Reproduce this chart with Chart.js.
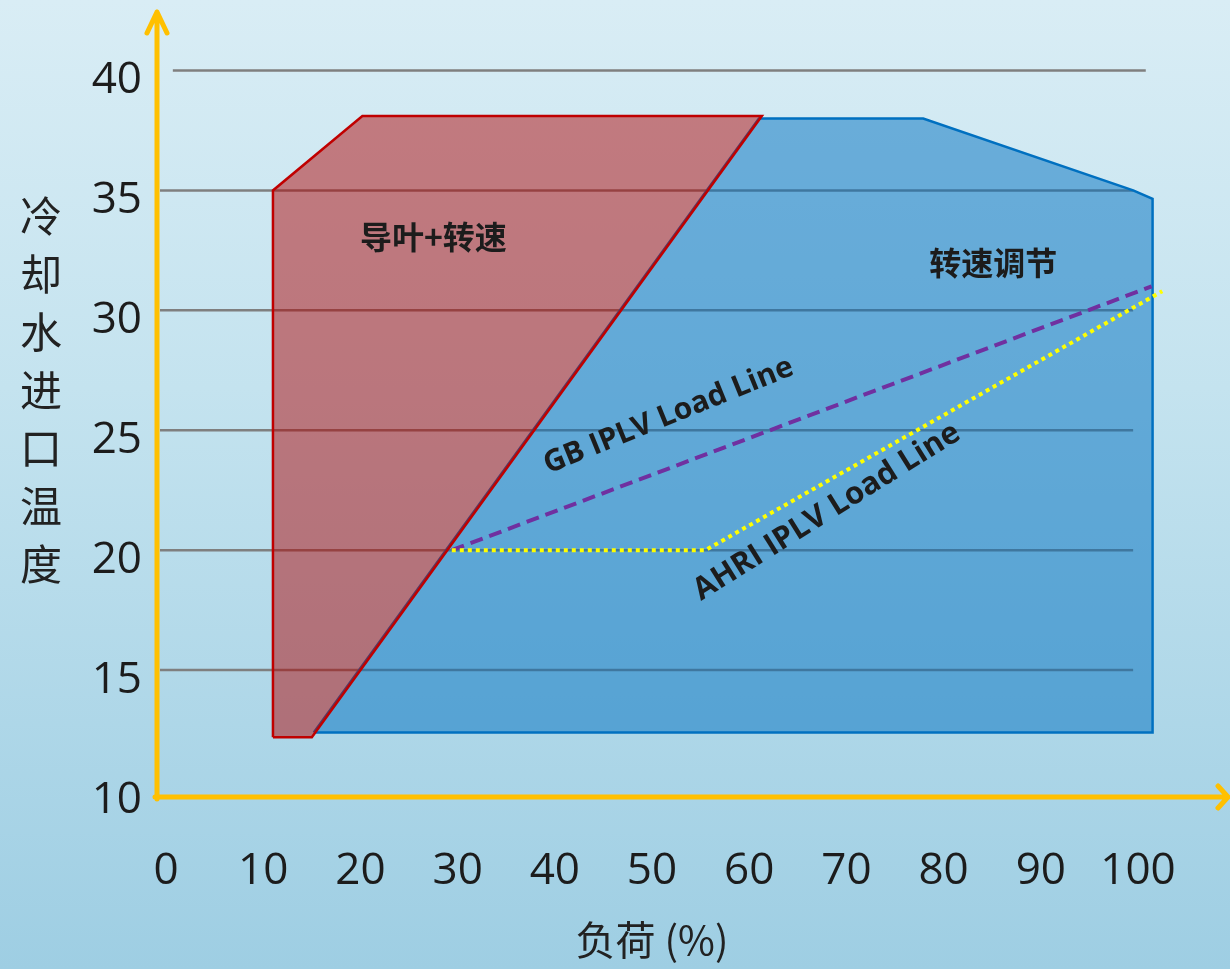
<!DOCTYPE html>
<html>
<head>
<meta charset="utf-8">
<script src="https://cdn.jsdelivr.net/npm/chart.js@4"></script>
<style>
html,body{margin:0;padding:0;width:1230px;height:969px;overflow:hidden;
  background:linear-gradient(to bottom,#d9edf5 0%,#c4e3ef 40%,#9ecee3 100%);}
canvas{display:block;}
</style>
</head>
<body>
<canvas id="c" width="1230" height="969"></canvas>
<script>
// ---- data ----
const xTicks = [0, 10, 20, 30, 40, 50, 60, 70, 80, 90, 100];
const yTicks = [10, 15, 20, 25, 30, 35, 40];
const gridValues = [15, 20, 25, 30, 35, 40];

// 导叶+转速 region (polygon, load %, °C)
const guideVaneX = [11.0, 11.0, 20.2, 61.3, 15.0, 11.0];
const guideVaneY = [12.2, 35.0, 38.1, 38.1, 12.2, 12.2];
// 转速调节 region
const speedX = [15.2, 61.0, 77.9, 99.5, 101.5, 101.5, 15.2];
const speedY = [12.4, 38.0, 38.0, 35.0, 34.65, 12.4, 12.4];
// GB IPLV load line
const gbX = [29.4, 101.4];
const gbY = [20.0, 31.0];
// AHRI IPLV load line
const ahriX = [29.4, 55.5, 102.5];
const ahriY = [20.0, 20.0, 30.8];

const xTitle = '负荷 (%)';
const yTitle = '冷却水进口温度';
const regionLabelA = '导叶+转速';
const regionLabelB = '转速调节';
const gbLabel = 'GB IPLV Load Line';
const ahriLabel = 'AHRI IPLV Load Line';

const pts = (xs, ys) => xs.map((x, i) => ({x: x, y: ys[i]}));

const decor = {
  id: 'decor',
  beforeDatasetsDraw(chart) {
    const {ctx, scales: {x, y}} = chart;
    ctx.save();
    ctx.strokeStyle = '#7f7f7f';
    ctx.lineWidth = 2.5;
    gridValues.forEach(v => {
      const py = y.getPixelForValue(v);
      const top = v === gridValues[gridValues.length - 1];
      const x0 = top ? x.getPixelForValue(0.7) : x.left + 3;
      const x1 = top ? x.getPixelForValue(100.8) : x.getPixelForValue(99.5);
      ctx.beginPath(); ctx.moveTo(x0, py); ctx.lineTo(x1, py); ctx.stroke();
    });
    ctx.restore();
  },
  afterDatasetsDraw(chart) {
    const {ctx, chartArea: a, scales: {x, y}} = chart;
    ctx.save();
    // axes with arrows
    ctx.strokeStyle = '#ffc000';
    ctx.lineWidth = 5;
    ctx.lineCap = 'round';
    ctx.lineJoin = 'round';
    ctx.beginPath();
    ctx.moveTo(a.left, a.bottom + 2); ctx.lineTo(a.left, a.top);
    ctx.moveTo(a.left - 10, a.top + 21); ctx.lineTo(a.left, a.top); ctx.lineTo(a.left + 10, a.top + 21);
    ctx.stroke();
    ctx.beginPath();
    ctx.moveTo(a.left - 2, a.bottom); ctx.lineTo(a.right, a.bottom);
    ctx.moveTo(a.right - 10, a.bottom - 11); ctx.lineTo(a.right, a.bottom); ctx.lineTo(a.right - 10, a.bottom + 11);
    ctx.stroke();

    ctx.fillStyle = '#1c1c1c';
    ctx.textAlign = 'center';
    ctx.textBaseline = 'middle';
    // region labels
    ctx.font = 'bold 32px "Noto Sans CJK SC"';
    ctx.fillText(regionLabelA, x.getPixelForValue(27.5), y.getPixelForValue(33.06));
    ctx.fillText(regionLabelB, x.getPixelForValue(85.1), y.getPixelForValue(31.98));
    // rotated line labels
    ctx.font = 'bold 30px "Open Sans"';
    ctx.save();
    ctx.translate(x.getPixelForValue(51.7), y.getPixelForValue(25.6));
    ctx.rotate(-22 * Math.PI / 180);
    ctx.fillText(gbLabel, 0, 0);
    ctx.restore();
    ctx.font = 'bold 31px "Open Sans"';
    ctx.save();
    ctx.translate(x.getPixelForValue(68.0), y.getPixelForValue(21.6));
    ctx.rotate(-32 * Math.PI / 180);
    ctx.fillText(ahriLabel, 0, 0);
    ctx.restore();

    // axis titles
    ctx.fillStyle = '#222';
    ctx.font = '40px "Noto Sans CJK SC"';
    ctx.fillText(xTitle, 652, 940);
    ctx.font = '42px "Noto Sans CJK SC"';
    const chars = Array.from(yTitle);
    chars.forEach((ch, i) => ctx.fillText(ch, 41, 216 + i * 58));
    ctx.restore();
  }
};

const noPad = s => { s.paddingTop = 0; s.paddingBottom = 0; s.paddingLeft = 0; s.paddingRight = 0; };

new Chart(document.getElementById('c'), {
  type: 'line',
  data: {
    datasets: [
      {
        label: ahriLabel,
        data: pts(ahriX, ahriY),
        borderColor: '#ffff00',
        borderWidth: 4,
        borderDash: [4, 4],
        pointRadius: 0,
        fill: false,
        tension: 0
      },
      {
        label: gbLabel,
        data: pts(gbX, gbY),
        borderColor: '#7030a0',
        borderWidth: 4,
        borderDash: [13, 7],
        pointRadius: 0,
        fill: false,
        tension: 0
      },
      {
        label: regionLabelA,
        data: pts(guideVaneX, guideVaneY),
        borderColor: '#c00000',
        backgroundColor: 'rgba(176,0,0,0.48)',
        borderWidth: 2.5,
        pointRadius: 0,
        fill: 'shape',
        tension: 0
      },
      {
        label: regionLabelB,
        data: pts(speedX, speedY),
        borderColor: '#0070c0',
        backgroundColor: 'rgba(0,112,192,0.5)',
        borderWidth: 2.5,
        pointRadius: 0,
        fill: 'shape',
        tension: 0
      }
    ]
  },
  options: {
    responsive: false,
    animation: false,
    devicePixelRatio: 1,
    layout: {padding: {top: 12, right: 2, left: 0, bottom: 0}},
    plugins: {legend: {display: false}, tooltip: {enabled: false}},
    scales: {
      x: {
        type: 'linear',
        min: -0.93,
        max: 109.26,
        grid: {display: false, drawTicks: false},
        border: {display: false},
        afterBuildTicks: s => { s.ticks = xTicks.map(v => ({value: v})); },
        afterFit: s => { s.height = 172; noPad(s); },
        ticks: {
          padding: 48,
          autoSkip: false,
          maxRotation: 0,
          color: '#1c1c1c',
          font: {family: '"Open Sans"', size: 44}
        }
      },
      y: {
        type: 'linear',
        min: 9.71,
        max: 42.44,
        grid: {display: false, drawTicks: false},
        border: {display: false},
        afterBuildTicks: s => { s.ticks = yTicks.map(v => ({value: v})); },
        afterFit: s => { s.width = 157; noPad(s); },
        ticks: {
          padding: 15,
          labelOffset: 10,
          color: '#1c1c1c',
          font: {family: '"Open Sans"', size: 44}
        }
      }
    }
  },
  plugins: [decor]
});
</script>
</body>
</html>
